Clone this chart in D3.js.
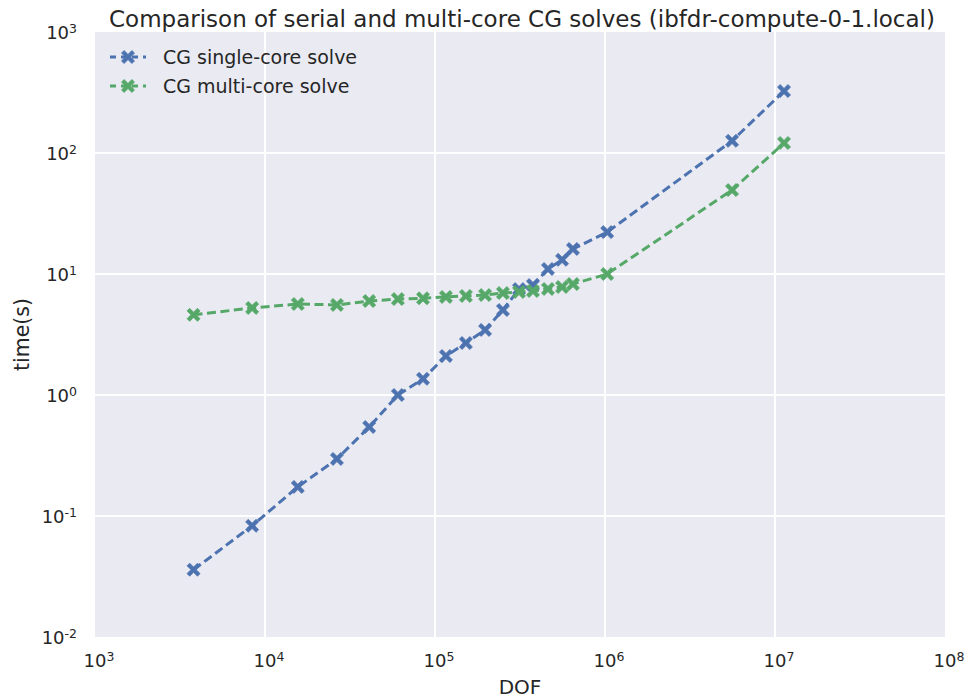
<!DOCTYPE html>
<html>
<head>
<meta charset="utf-8">
<script src="https://cdn.jsdelivr.net/npm/d3@7"></script>
<style>
  body { margin: 0; background: #fff; }
  text { font-family: "DejaVu Sans", sans-serif; fill: #262626; }
</style>
</head>
<body>
<script>
var width = 965,
    height = 700;

var margin = {top: 32, right: 20, bottom: 63, left: 95};

// DOF values (shared x)
var dof = [3800, 8400, 15600, 26500, 41000, 60500, 85000, 116000, 152000, 197000,
           251000, 312000, 377000, 462000, 559000, 648000, 1030000, 5590000, 11300000];

// single-core solve times (s)
var singleCore = [0.036, 0.083, 0.174, 0.296, 0.544, 1.0, 1.36, 2.1, 2.69, 3.45,
                  5.04, 7.5, 8.1, 11.0, 13.1, 16.1, 22.2, 126, 325];

// multi-core solve times (s)
var multiCore = [4.6, 5.24, 5.65, 5.55, 5.98, 6.21, 6.3, 6.46, 6.58, 6.7,
                 6.96, 7.1, 7.24, 7.52, 7.81, 8.26, 10.0, 49.4, 121];

var seriesNames = ["CG single-core solve", "CG multi-core solve"];
var seriesColors = ["#4C72B0", "#55A868"];

var xTicks = [1e3, 1e4, 1e5, 1e6, 1e7, 1e8];
var yTicks = [1e-2, 1e-1, 1e0, 1e1, 1e2, 1e3];

var svg = d3.select("body").append("svg")
    .attr("width", width)
    .attr("height", height);

var x = d3.scaleLog()
    .domain([1e3, 1e8])
    .range([margin.left, width - margin.right]);

var y = d3.scaleLog()
    .domain([1e-2, 1e3])
    .range([height - margin.bottom, margin.top]);

// background
svg.append("rect")
    .attr("x", x.range()[0])
    .attr("y", margin.top)
    .attr("width", x.range()[1] - x.range()[0])
    .attr("height", y.range()[0] - margin.top)
    .attr("fill", "#EAEAF2");

// grid
var grid = svg.append("g").attr("class", "grid");
grid.selectAll("line.xg")
    .data(xTicks.slice(1, -1))
    .enter().append("line")
    .attr("x1", d => x(d)).attr("x2", d => x(d))
    .attr("y1", y.range()[0]).attr("y2", y.range()[1])
    .attr("stroke", "#fff").attr("stroke-width", 2);
grid.selectAll("line.yg")
    .data(yTicks.slice(1, -1))
    .enter().append("line")
    .attr("y1", d => y(d)).attr("y2", d => y(d))
    .attr("x1", x.range()[0]).attr("x2", x.range()[1])
    .attr("stroke", "#fff").attr("stroke-width", 2);

function expLabel(sel, d) {
  var e = Math.round(Math.log10(d));
  sel.text("10");
  sel.append("tspan")
    .attr("dy", "-0.5em")
    .attr("font-size", "12.5px")
    .text(e);
}

// x tick labels
svg.append("g").selectAll("text")
    .data(xTicks)
    .enter().append("text")
    .attr("x", d => x(d) + 4)
    .attr("y", 667)
    .attr("text-anchor", "middle")
    .attr("font-size", "18px")
    .each(function(d) { expLabel(d3.select(this), d); });

// y tick labels
svg.append("g").selectAll("text")
    .data(yTicks)
    .enter().append("text")
    .attr("x", 77)
    .attr("y", d => y(d) + 7)
    .attr("text-anchor", "end")
    .attr("font-size", "18px")
    .each(function(d) { expLabel(d3.select(this), d); });

// axis labels
svg.append("text")
    .attr("x", (x.range()[0] + x.range()[1]) / 2)
    .attr("y", 694)
    .attr("text-anchor", "middle")
    .attr("font-size", "20px")
    .text("DOF");

svg.append("text")
    .attr("transform", "translate(29," + ((y.range()[0] + y.range()[1]) / 2) + ") rotate(-90)")
    .attr("text-anchor", "middle")
    .attr("font-size", "20.5px")
    .text("time(s)");

// title
svg.append("text")
    .attr("x", (x.range()[0] + x.range()[1]) / 2 + 2)
    .attr("y", 27)
    .attr("text-anchor", "middle")
    .attr("font-size", "23px")
    .text("Comparison of serial and multi-core CG solves (ibfdr-compute-0-1.local)");

// X marker shape (filled, matplotlib "X")
var s = 6.5, t = 2.6;
var markerPath = "M" + (-s) + "," + (-s + t) + "L" + (-s + t) + "," + (-s) +
    "L0," + (-t) + "L" + (s - t) + "," + (-s) + "L" + s + "," + (-s + t) +
    "L" + t + ",0L" + s + "," + (s - t) + "L" + (s - t) + "," + s +
    "L0," + t + "L" + (-s + t) + "," + s + "L" + (-s) + "," + (s - t) +
    "L" + (-t) + ",0Z";

var series = [singleCore, multiCore];

var line = d3.line()
    .x(d => x(d[0]))
    .y(d => y(d[1]));

var plot = svg.append("g").attr("class", "plot");

series.forEach(function(vals, i) {
  var pts = dof.map((d, j) => [d, vals[j]]);
  plot.append("path")
    .datum(pts)
    .attr("d", line)
    .attr("fill", "none")
    .attr("stroke", seriesColors[i])
    .attr("stroke-width", 3)
    .attr("stroke-dasharray", "9,4.5");
  plot.selectAll("path.m" + i)
    .data(pts)
    .enter().append("path")
    .attr("class", "m" + i)
    .attr("transform", d => "translate(" + x(d[0]) + "," + y(d[1]) + ")")
    .attr("d", markerPath)
    .attr("fill", seriesColors[i])
    .attr("stroke", seriesColors[i])
    .attr("stroke-width", 0.8);
});

// legend
var legend = svg.append("g").attr("class", "legend");
seriesNames.forEach(function(name, i) {
  var ly = 57 + i * 29;
  legend.append("line")
    .attr("x1", 110).attr("x2", 146)
    .attr("y1", ly).attr("y2", ly)
    .attr("stroke", seriesColors[i])
    .attr("stroke-width", 3)
    .attr("stroke-dasharray", "6,5");
  legend.append("path")
    .attr("transform", "translate(128," + ly + ")")
    .attr("d", markerPath)
    .attr("fill", seriesColors[i])
    .attr("stroke", seriesColors[i])
    .attr("stroke-width", 0.8);
  legend.append("text")
    .attr("x", 163)
    .attr("y", ly + 7)
    .attr("font-size", "19px")
    .text(name);
});
</script>
</body>
</html>
